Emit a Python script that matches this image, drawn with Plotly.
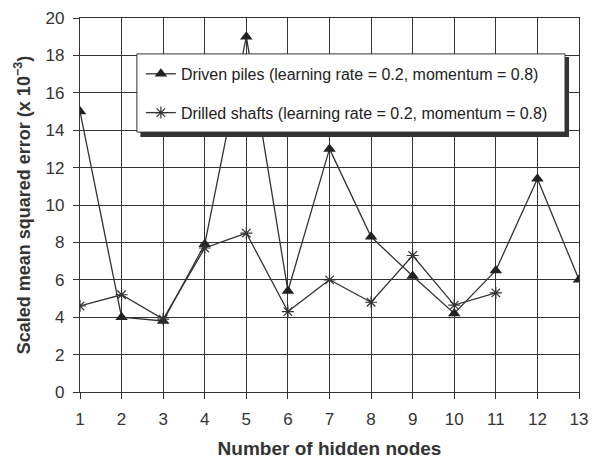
import plotly.graph_objects as go

# Number of hidden nodes
driven_nodes = [1, 2, 3, 4, 5, 6, 7, 8, 9, 10, 11, 12, 13]
driven_mse = [15.0, 4.0, 3.8, 7.9, 19.0, 5.4, 13.0, 8.3, 6.2, 4.2, 6.5, 11.4, 6.0]

drilled_nodes = [1, 2, 3, 4, 5, 6, 7, 8, 9, 10, 11]
drilled_mse = [4.6, 5.2, 3.9, 7.7, 8.5, 4.3, 6.0, 4.8, 7.3, 4.65, 5.3]

x_ticks = list(range(1, 14))
y_ticks = list(range(0, 21, 2))

INK = "#333333"
FONT = "Liberation Sans, Arial, sans-serif"

fig = go.Figure()

fig.add_trace(go.Scatter(
    x=driven_nodes, y=driven_mse, mode="lines+markers",
    name="Driven piles (learning rate = 0.2, momentum = 0.8)",
    line=dict(color=INK, width=1.3),
    marker=dict(symbol="triangle-up", size=11, color="#222222"),
    legendgroup="a",
))
fig.add_trace(go.Scatter(
    x=drilled_nodes, y=drilled_mse, mode="lines+markers",
    name="Drilled shafts (learning rate = 0.2, momentum = 0.8)",
    line=dict(color=INK, width=1.3),
    marker=dict(symbol="asterisk-open", size=10, color=INK,
                line=dict(color=INK, width=1.2)),
    legendgroup="b",
))

# Legend frame with drop shadow (paper coordinates)
x0, x1 = 0.114, 0.972
y0, y1 = 0.695, 0.904
fig.add_shape(type="rect", xref="paper", yref="paper",
              x0=x0 + 0.007, x1=x1 + 0.008, y0=y0 - 0.013, y1=y1 - 0.008,
              fillcolor="#333333", line=dict(width=0), layer="above")
fig.add_shape(type="rect", xref="paper", yref="paper",
              x0=x0, x1=x1, y0=y0, y1=y1,
              fillcolor="white", line=dict(color=INK, width=1), layer="above")

fig.update_layout(
    width=592, height=463,
    margin=dict(l=80, r=13, t=18, b=71, autoexpand=False),
    paper_bgcolor="white", plot_bgcolor="white",
    font=dict(family=FONT, color=INK),
    showlegend=True,
    legend=dict(
        x=x0 + 0.008, y=y1 - 0.008, xanchor="left", yanchor="top",
        bgcolor="rgba(0,0,0,0)", borderwidth=0,
        font=dict(size=16, family=FONT, color="#222222"),
        tracegroupgap=15,
    ),
    xaxis=dict(
        range=[1, 13], tickvals=x_ticks, ticks="outside", ticklen=6,
        ticklabelstandoff=5, automargin=False,
        tickcolor=INK, tickfont=dict(size=17, color=INK),
        showgrid=True, gridcolor=INK, gridwidth=1.3,
        showline=True, linecolor=INK, linewidth=1.3, mirror=True,
        zeroline=False,
        title=dict(text="<b>Number of hidden nodes</b>",
                   font=dict(size=19, color=INK), standoff=14),
    ),
    yaxis=dict(
        range=[0, 20], tickvals=y_ticks, ticks="outside", ticklen=6,
        ticklabelstandoff=5, automargin=False,
        tickcolor=INK, tickfont=dict(size=17, color=INK),
        showgrid=True, gridcolor=INK, gridwidth=1.3,
        showline=True, linecolor=INK, linewidth=1.3, mirror=True,
        zeroline=False,
        title=dict(text="<b>Scaled mean squared error (x 10<sup>−3</sup>)</b>",
                   font=dict(size=18, color=INK), standoff=10),
    ),
)

fig.write_html("out.html")
